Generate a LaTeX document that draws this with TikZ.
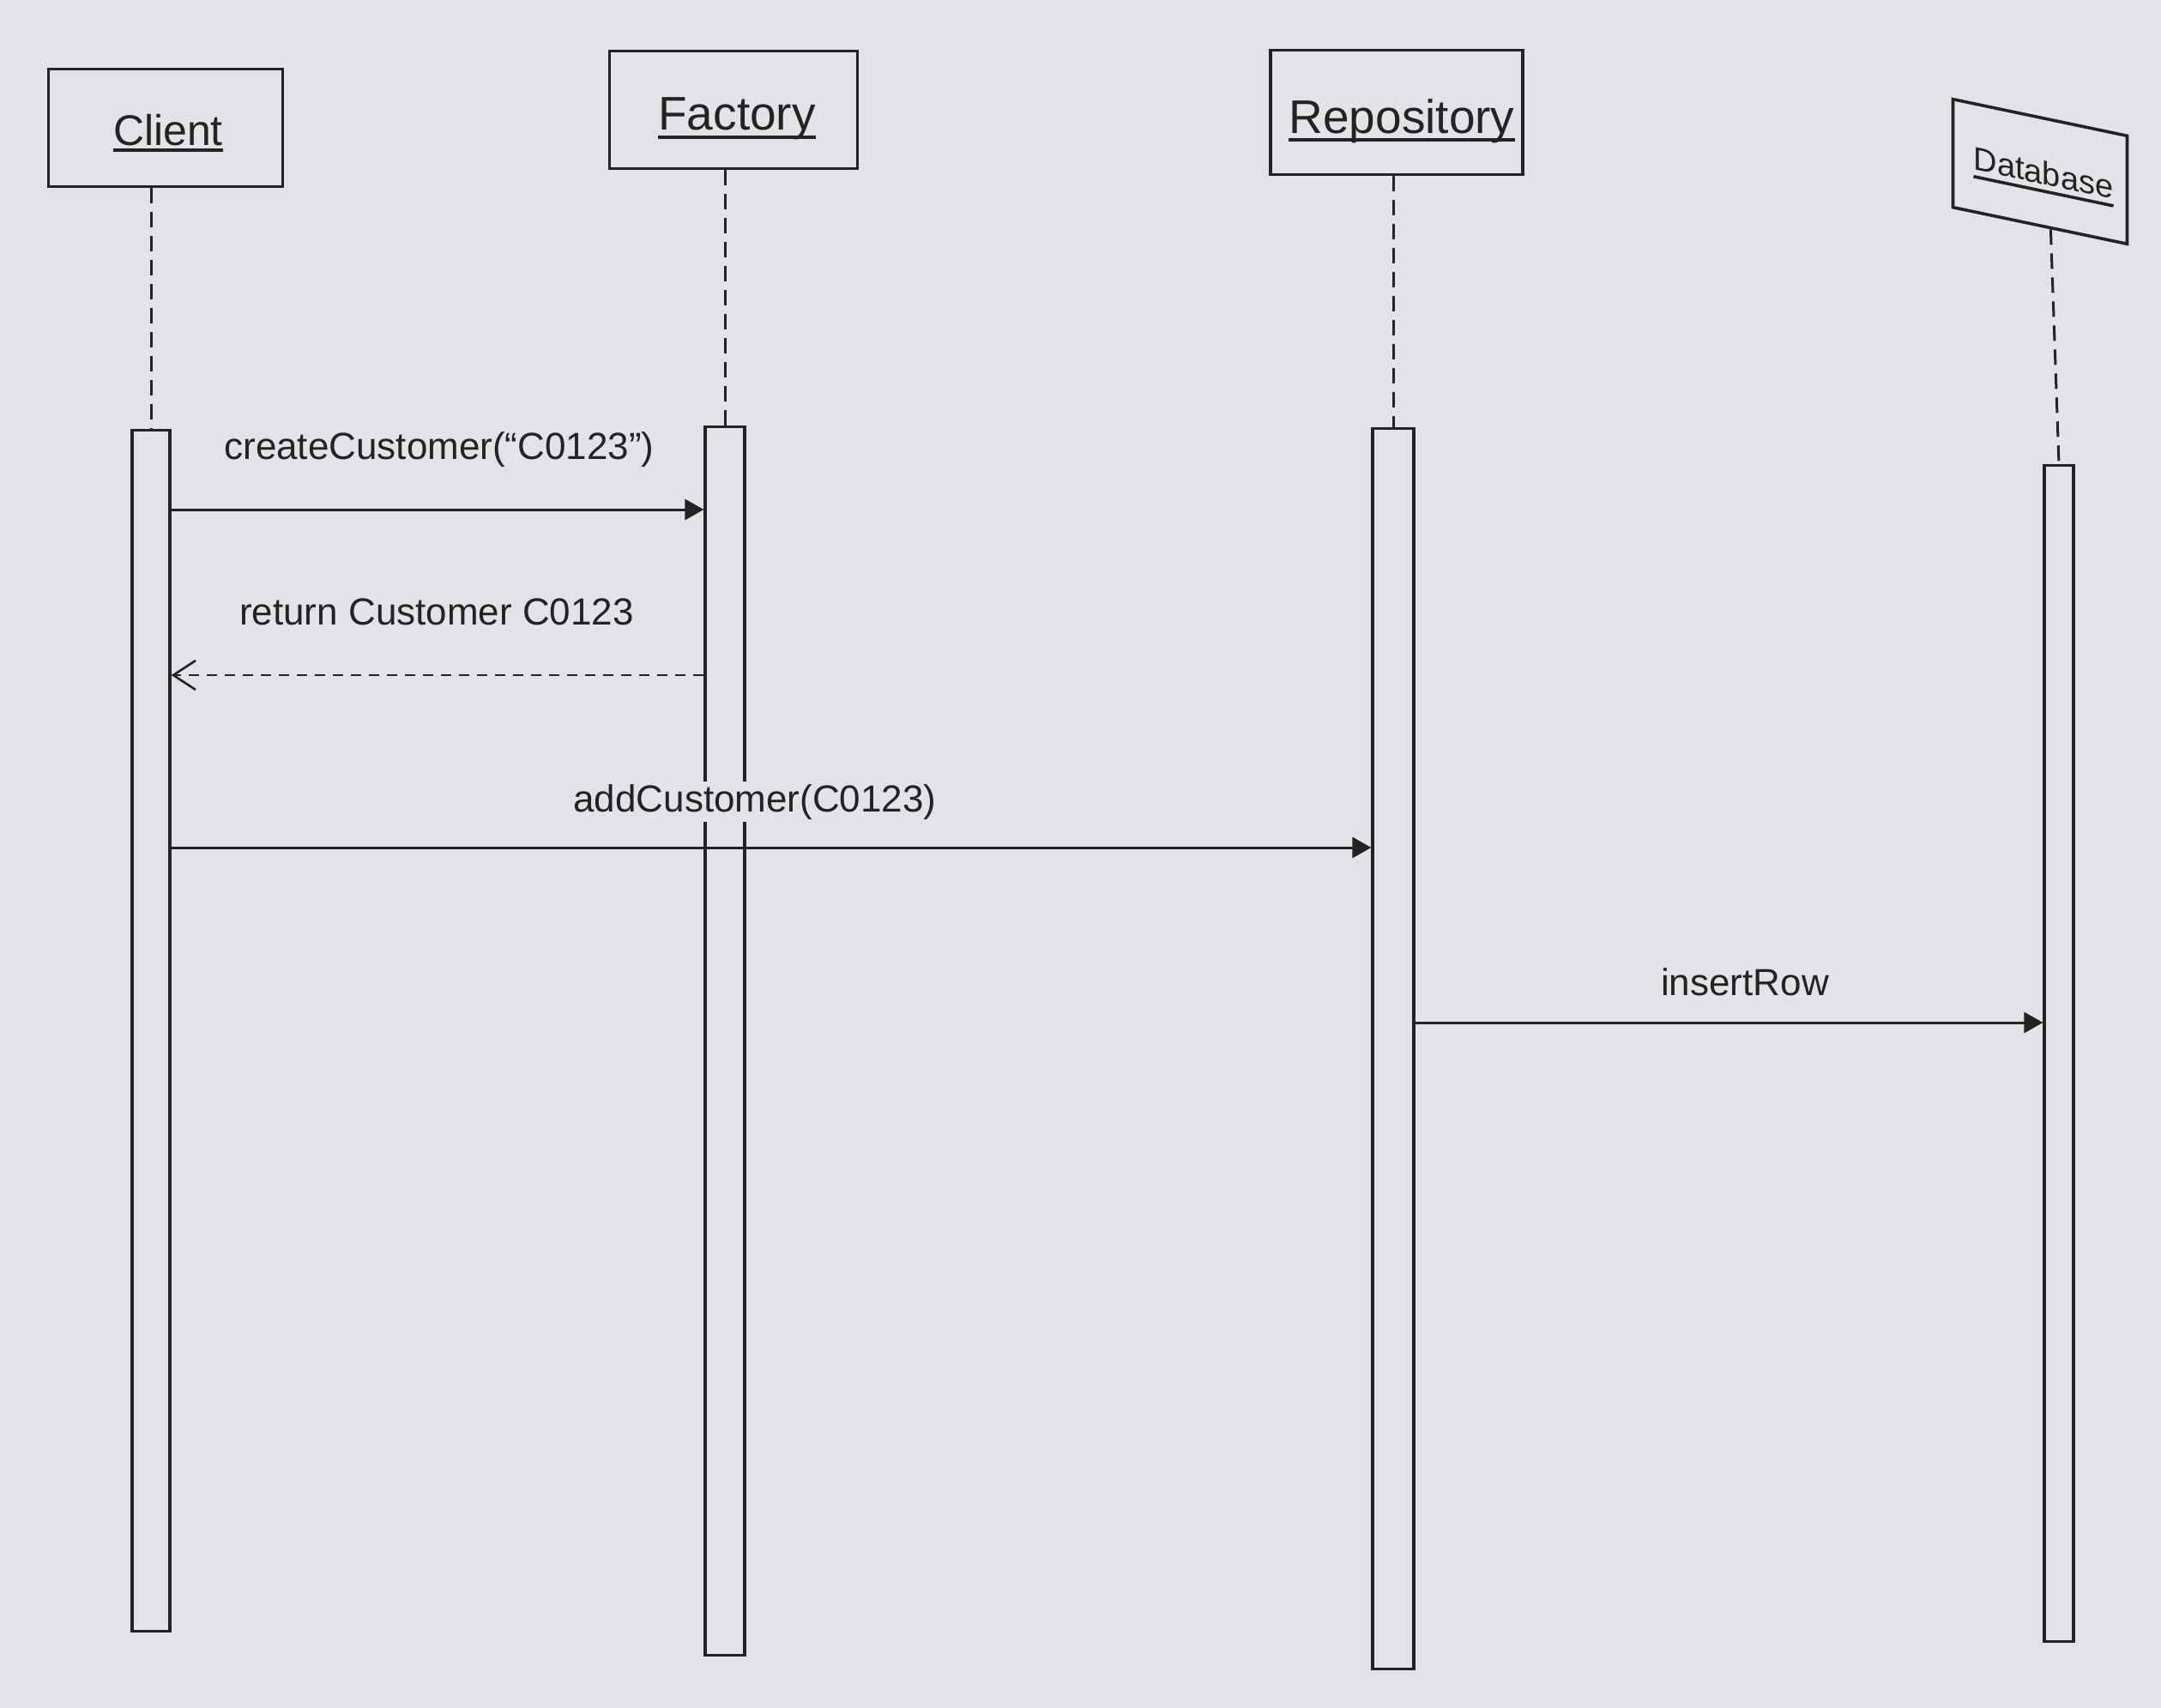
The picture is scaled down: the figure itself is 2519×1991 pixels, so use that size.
\documentclass[tikz,border=0pt]{standalone}
\usepackage{fontspec}
\setmainfont{Liberation Sans}
\usetikzlibrary{arrows.meta,calc}
\definecolor{paper}{RGB}{226,227,230}
\definecolor{ink}{RGB}{35,35,35}
\begin{document}
\begin{tikzpicture}[x=1pt,y=-1pt,
  hdrbox/.style={draw=ink, line width=3.6pt, fill=paper, inner sep=0pt},
  hdrtext/.style={text=ink, inner sep=0pt, anchor=base},
  uline/.style={draw=ink, line width=3.6pt},
  lifeline/.style={draw=ink, line width=3pt, dash pattern=on 18pt off 10pt},
  actbar/.style={draw=ink, line width=3.2pt, fill=paper, inner sep=0pt, anchor=north},
  msglbl/.style={text=ink, inner sep=3pt, anchor=base, font=\fontsize{44}{52}\selectfont},
  callmsg/.style={draw=ink, line width=3pt, -{Triangle[length=22pt,width=24pt]}},
  retmsg/.style={draw=ink, line width=2.6pt, dash pattern=on 12pt off 9pt,
     -{Straight Barb[length=26pt,width=34pt,line width=2.6pt]}}
]
\fill[paper] (0,0) rectangle (2519,1991);
\useasboundingbox (0,0) rectangle (2519,1991);

% header boxes
\node[hdrbox, minimum width=273pt, minimum height=137pt] (cbox) at (193,149) {};
\node[hdrtext, font=\fontsize{50}{60}\selectfont] (ctxt) at (196,169) {Client};
\draw[uline] ([yshift=-6pt]ctxt.base west) -- ([yshift=-6pt]ctxt.base east);

\node[hdrbox, minimum width=289pt, minimum height=137pt] (fbox) at (855,128) {};
\node[hdrtext, font=\fontsize{55}{64}\selectfont] (ftxt) at (859,152) {Factory};
\draw[uline] ([yshift=-8pt]ftxt.base west) -- ([yshift=-8pt]ftxt.base east);

\node[hdrbox, minimum width=294pt, minimum height=145pt] (rbox) at (1628,131) {};
\node[hdrtext, font=\fontsize{55}{64}\selectfont] (rtxt) at (1634,156) {Repository};
\draw[uline] ([yshift=-7pt]rtxt.base west) -- ([yshift=-7pt]rtxt.base east);

\begin{scope}[shift={(2378,200)}, yslant=-0.21]
  \node[hdrbox, transform shape, minimum width=203pt, minimum height=126pt] (dbox) at (0,0) {};
  \node[hdrtext, transform shape, font=\fontsize{38}{46}\selectfont] (dtxt) at (4,14) {Database};
\end{scope}
\draw[uline] ([yshift=-8pt]dtxt.base west) -- ([yshift=-8pt]dtxt.base east);

% activation bars
\node[actbar, minimum width=44pt, minimum height=1400pt] (cbar) at (176,500) {};
\node[actbar, minimum width=46pt, minimum height=1432pt] (fbar) at (845,496) {};
\node[actbar, minimum width=48pt, minimum height=1446pt] (rbar) at (1624,498) {};
\node[actbar, minimum width=34pt, minimum height=1371pt] (dbar) at (2400,541) {};

% lifelines
\draw[lifeline] (cbar.north |- cbox.south) -- (cbar.north);
\draw[lifeline] (fbar.north |- fbox.south) -- (fbar.north);
\draw[lifeline] (rbar.north |- rbox.south) -- (rbar.north);
\coordinate (dbs) at ($(dbox.south west)!0.56!(dbox.south east)$);
\draw[lifeline] (dbs) -- (dbar.north);

% messages
\node[msglbl] (m1) at (512,535) {createCustomer(“C0123”)};
\draw[callmsg] (cbar.east |- 0,594) -- (fbar.west |- 0,594);

\node[msglbl] (m2) at (509,728) {return Customer C0123};
\draw[retmsg] (fbar.west |- 0,787) -- (cbar.east |- 0,787);

\draw[callmsg] (cbar.east |- 0,988) -- (rbar.west |- 0,988);
\node[msglbl, fill=paper] (m3) at (880,946) {addCustomer(C0123)};

\node[msglbl] (m4) at (2034,1160) {insertRow};
\draw[callmsg] (rbar.east |- 0,1192) -- (dbar.west |- 0,1192);
\end{tikzpicture}
\end{document}
